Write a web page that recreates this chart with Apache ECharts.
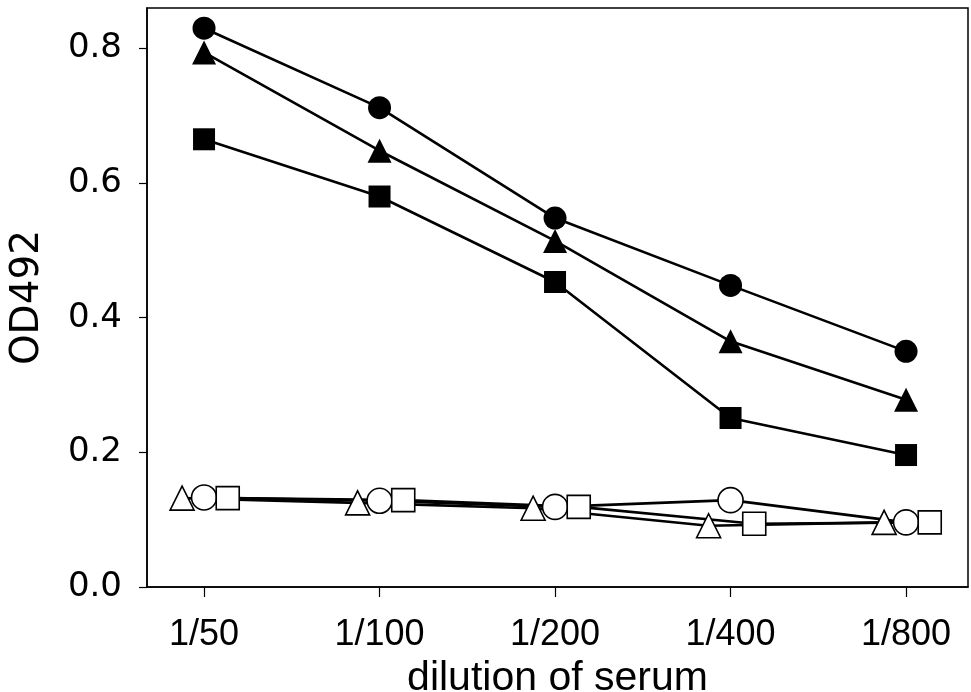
<!DOCTYPE html>
<html>
<head>
<meta charset="utf-8">
<script src="https://cdn.jsdelivr.net/npm/echarts@6/dist/echarts.min.js"></script>
<style>
  html, body { margin: 0; padding: 0; background: #fff; }
  #chart { width: 971px; height: 692px; }
</style>
</head>
<body>
<div id="chart"></div>
<script>
// Serum dilutions along the x axis
const dilutions = ['1/50', '1/100', '1/200', '1/400', '1/800'];
const yTicks = [0, 0.2, 0.4, 0.6, 0.8];

// OD492 readings, immune sera (filled symbols)
const immuneCircle   = [0.830, 0.712, 0.548, 0.448, 0.350];
const immuneTriangle = [0.794, 0.648, 0.514, 0.365, 0.278];
const immuneSquare   = [0.665, 0.580, 0.453, 0.251, 0.196];

// OD492 readings, control sera (open symbols)
const controlCircle   = [0.133, 0.128, 0.119, 0.129, 0.096];
const controlTriangle = [0.132, 0.125, 0.117, 0.091, 0.096];
const controlSquare   = [0.132, 0.129, 0.119, 0.094, 0.096];

// Horizontal nudge so the open symbols sit side by side
const shift = { triangle: -0.125, circle: 0, square: 0.135 };

function pts(values, dx) {
  return values.map((v, i) => [i + dx, v]);
}

const groups = [
  { data: immuneCircle,    symbol: 'circle',   size: 23, open: false, dx: 0 },
  { data: immuneTriangle,  symbol: 'triangle', size: 24, open: false, dx: 0 },
  { data: immuneSquare,    symbol: 'rect',     size: 22, open: false, dx: 0 },
  { data: controlTriangle, symbol: 'triangle', size: 24, open: true,  dx: shift.triangle },
  { data: controlCircle,   symbol: 'circle',   size: 25, open: true,  dx: shift.circle },
  { data: controlSquare,   symbol: 'rect',     size: 23, open: true,  dx: shift.square }
];

const series = [];
groups.forEach(g => {
  series.push({
    type: 'line',
    data: pts(g.data, g.dx),
    showSymbol: false,
    symbol: 'none',
    z: 2,
    silent: true,
    lineStyle: { color: '#000', width: 2.6 }
  });
});
groups.forEach(g => {
  series.push({
    type: 'scatter',
    data: pts(g.data, g.dx),
    symbol: g.symbol,
    symbolSize: g.size,
    z: 3,
    itemStyle: g.open
      ? { color: '#fff', borderColor: '#000', borderWidth: 1.6, opacity: 1 }
      : { color: '#000', borderColor: '#000', borderWidth: 0, opacity: 1 }
  });
});

const chart = echarts.init(document.getElementById('chart'), null, { renderer: 'canvas' });
chart.setOption({
  animation: false,
  backgroundColor: '#fff',
  grid: {
    left: 147, top: 8, right: 3, bottom: 105,
    containLabel: false,
    outerBoundsMode: 'none',
    show: true, borderColor: '#000', borderWidth: 1.5, backgroundColor: 'transparent'
  },
  xAxis: {
    type: 'value',
    min: -0.325,
    max: 4.353,
    name: 'dilution of serum',
    nameLocation: 'middle',
    nameGap: 61,
    nameTextStyle: { fontFamily: 'Liberation Sans', fontSize: 41, color: '#000' },
    axisLine: { show: true, onZero: false, lineStyle: { color: '#000', width: 1.5 } },
    axisTick: { show: true, inside: false, length: 10, customValues: [0, 1, 2, 3, 4], lineStyle: { color: '#000', width: 1.2 } },
    axisLabel: {
      customValues: [0, 1, 2, 3, 4],
      formatter: v => dilutions[Math.round(v)],
      margin: 30,
      fontFamily: 'Liberation Sans',
      fontSize: 36,
      color: '#000'
    },
    splitLine: { show: false }
  },
  yAxis: {
    type: 'value',
    min: 0,
    max: 0.86,
    name: 'OD492',
    nameLocation: 'middle',
    nameGap: 100,
    nameRotate: 90,
    nameTextStyle: { fontFamily: 'DejaVu Sans', fontSize: 39, color: '#000' },
    axisLine: { show: true, onZero: false, lineStyle: { color: '#000', width: 1.5 } },
    axisTick: { show: true, inside: false, length: 8, customValues: yTicks, lineStyle: { color: '#000', width: 1.2 } },
    axisLabel: {
      customValues: yTicks,
      formatter: v => v.toFixed(1),
      margin: 25,
      fontFamily: 'DejaVu Sans',
      fontSize: 34,
      color: '#000'
    },
    splitLine: { show: false }
  },
  series: series
});
</script>
</body>
</html>
